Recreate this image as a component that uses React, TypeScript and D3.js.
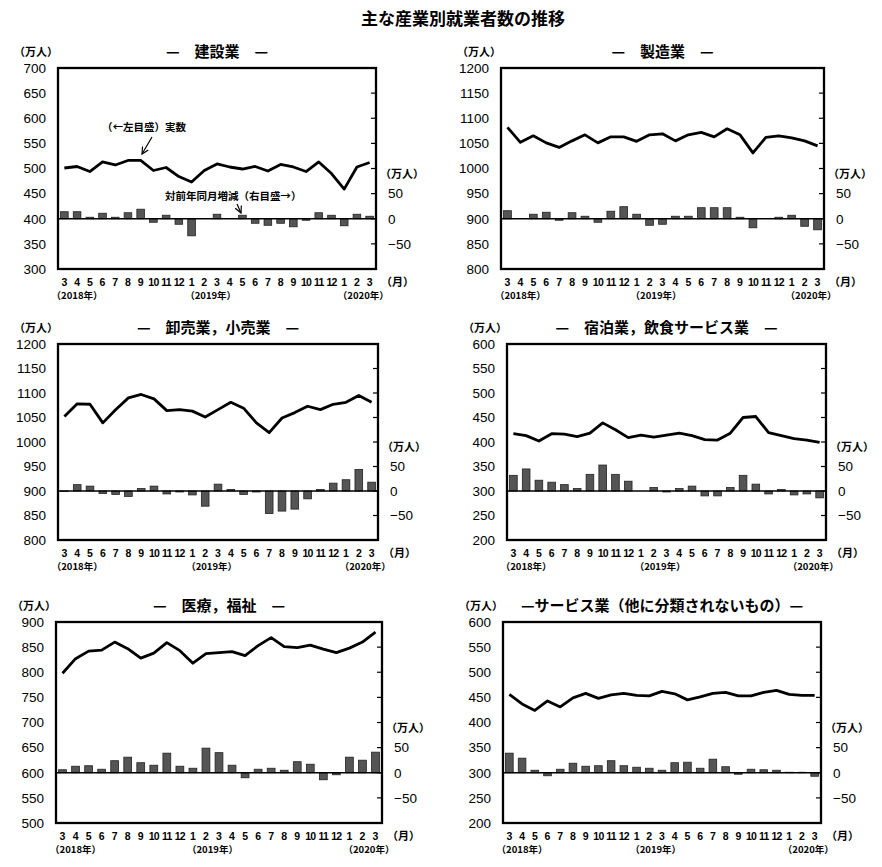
import React from 'react';
import * as d3 from 'd3';

// months shown on the x axis: 2018/3 .. 2020/3
const months = ['3', '4', '5', '6', '7', '8', '9', '10', '11', '12', '1', '2', '3', '4', '5', '6', '7', '8', '9', '10', '11', '12', '1', '2', '3'];
const yearLabels = ['（2018年）', '（2019年）', '（2020年）'];
const yearAt = [1, 11.5, 23.5];

const titles = ['—　建設業　—', '—　製造業　—', '—　卸売業，小売業　—', '—　宿泊業，飲食サービス業　—', '—　医療，福祉　—', '—サービス業（他に分類されないもの）—'];
const leftMins = [300, 800, 800, 200, 500, 200];

// 実数 (left axis, 万人)
const construction = [501, 504, 494, 513, 507, 516, 516, 496, 502, 484, 473, 496, 509, 503, 499, 504, 495, 508, 503, 494, 513, 490, 459, 503, 512];
const manufacturing = [1082, 1052, 1065, 1051, 1042, 1055, 1067, 1051, 1063, 1063, 1054, 1067, 1069, 1055, 1067, 1072, 1063, 1079, 1067, 1031, 1062, 1065, 1061, 1055, 1045];
const wholesale = [1052, 1078, 1077, 1039, 1066, 1090, 1097, 1088, 1064, 1066, 1063, 1051, 1066, 1081, 1069, 1039, 1019, 1049, 1060, 1073, 1066, 1077, 1081, 1095, 1081];
const hospitality = [417, 413, 402, 417, 416, 411, 418, 439, 425, 409, 414, 410, 414, 418, 413, 405, 404, 418, 450, 452, 419, 413, 407, 404, 399];
const medical = [798, 827, 842, 844, 860, 847, 828, 838, 859, 843, 818, 837, 839, 841, 833, 853, 869, 851, 849, 854, 846, 839, 848, 860, 880];
const services = [456, 437, 424, 443, 431, 449, 458, 448, 455, 458, 454, 453, 462, 457, 445, 451, 458, 460, 453, 453, 460, 464, 456, 454, 454];

// 対前年同月増減 (right axis, 万人)
const constructionChange = [14, 14, 3, 11, 3, 12, 19, -7, 7, -11, -34, 0, 9, 0, 7, -9, -13, -9, -16, -3, 12, 7, -14, 9, 5];
const manufacturingChange = [16, 0, 9, 13, -3, 12, 5, -7, 15, 24, 9, -13, -11, 5, 5, 22, 22, 22, 3, -18, 0, 3, 7, -15, -22];
const wholesaleChange = [-1, 13, 10, -5, -7, -11, 5, 10, -6, -2, -8, -31, 14, 3, -7, -2, -46, -41, -37, -16, 3, 16, 23, 44, 18];
const hospitalityChange = [32, 45, 22, 18, 13, 5, 34, 53, 34, 20, 0, 7, -2, 5, 10, -10, -10, 7, 32, 14, -6, 3, -8, -6, -14];
const medicalChange = [6, 13, 14, 7, 24, 31, 20, 15, 39, 13, 9, 49, 40, 15, -10, 7, 9, 5, 22, 17, -14, -4, 31, 25, 41];
const servicesChange = [39, 29, 5, -6, 7, 19, 13, 14, 24, 14, 11, 9, 5, 20, 21, 9, 27, 12, -3, 7, 6, 5, 1, 1, -7];

const rightTicks = [50, 0, -50];

const values = [construction, manufacturing, wholesale, hospitality, medical, services];
const changes = [constructionChange, manufacturingChange, wholesaleChange, hospitalityChange, medicalChange, servicesChange];

// plot frames [left, right, top, bottom]
const frames = [
  [58, 376, 68, 269],
  [501, 824, 68, 269],
  [58, 378, 344, 540],
  [507, 826, 344, 540],
  [56, 382, 622, 823],
  [503, 821, 622, 823],
];

const NUM = '"Liberation Sans", Arial, sans-serif';
const JP = '"Noto Sans CJK JP", "Noto Sans", sans-serif';

function Panel({ idx }: { idx: number }) {
  const [left, right, top, bottom] = frames[idx];
  const min = leftMins[idx];
  const max = min + 400;
  const zero = min + 100;
  const y = d3.scaleLinear().domain([min, max]).range([bottom, top]);
  const yr = d3.scaleLinear().domain([min - zero, max - zero]).range([bottom, top]);
  const x = d3.scaleBand<number>().domain(d3.range(months.length)).range([left, right]).paddingInner(0.4).paddingOuter(0.2);
  const cx = (i: number) => (x(i) as number) + x.bandwidth() / 2;
  const step = x.step();
  const leftTicks = d3.range(min, max + 1, 50);

  const line = d3.line<number>().x((_, i) => cx(i)).y(d => y(d));

  return (
    <g>
      <text x={(left + right) / 2} y={top - 11} textAnchor="middle" fontFamily={JP} fontWeight={700} fontSize={15}>{titles[idx]}</text>
      <text x={left - 22} y={top - 12} textAnchor="middle" fontFamily={JP} fontSize={11} fontWeight={700}>（万人）</text>

      {leftTicks.map(t => (
        <text key={t} x={left - 12} y={y(t)} dy="0.36em" textAnchor="end" fontFamily={NUM} fontSize={13.5}>{t}</text>
      ))}
      {leftTicks.slice(1, -1).map(t => (
        <line key={t} x1={right - 5} x2={right} y1={y(t)} y2={y(t)} stroke="#000" strokeWidth={1.2} />
      ))}

      {rightTicks.map(t => (
        <text key={t} x={right + 12} y={yr(t)} dy="0.36em" textAnchor="start" fontFamily={NUM} fontSize={13.5}>{t < 0 ? '−' + Math.abs(t) : t}</text>
      ))}
      <text x={right + 26} y={yr(100) + 9} textAnchor="middle" fontFamily={JP} fontSize={11} fontWeight={700}>（万人）</text>

      {changes[idx].map((v, i) => (
        <rect key={i} x={x(i)} width={x.bandwidth()} y={Math.min(yr(v), yr(0))} height={Math.abs(yr(v) - yr(0))} fill="#555" stroke="#222" strokeWidth={0.8} />
      ))}
      <line x1={left} x2={right} y1={yr(0)} y2={yr(0)} stroke="#000" strokeWidth={1.6} />

      <path d={line(values[idx]) as string} fill="none" stroke="#000" strokeWidth={2.8} strokeLinejoin="round" />

      <rect x={left} y={top} width={right - left} height={bottom - top} fill="none" stroke="#000" strokeWidth={2.3} />

      {months.map((m, i) => (
        <text key={i} x={cx(i)} y={bottom + 17} textAnchor="middle" fontFamily={NUM} fontSize={10.5} fontWeight={700} letterSpacing={m.length > 1 ? -0.8 : 0}>{m}</text>
      ))}
      {yearLabels.map((l, i) => (
        <text key={l} x={left + step * (yearAt[i] + 0.5)} y={bottom + 30} textAnchor="middle" fontFamily={JP} fontSize={9.5} fontWeight={700}>{l}</text>
      ))}
      <text x={right + 5} y={bottom + 17} fontFamily={JP} fontSize={11} fontWeight={700}>（月）</text>
    </g>
  );
}

export default function App() {
  return (
    <svg width={882} height={867} style={{ position: 'absolute', left: 0, top: 0, background: '#fff' }}>
      <defs>
        <marker id="arr" viewBox="0 0 10 10" refX="9" refY="5" markerWidth="7" markerHeight="7" orient="auto">
          <path d="M1,1 L9,5 L1,9" fill="none" stroke="#000" strokeWidth={1.4} />
        </marker>
      </defs>
      <text x={463} y={25} textAnchor="middle" fontFamily={JP} fontWeight={700} fontSize={17}>主な産業別就業者数の推移</text>
      {frames.map((_, i) => <Panel key={i} idx={i} />)}

      <text x={102} y={131} fontFamily={JP} fontSize={10.5} fontWeight={700}>（←左目盛）実数</text>
      <line x1={152} y1={137} x2={142} y2={154} stroke="#000" strokeWidth={1.2} markerEnd="url(#arr)" />
      <text x={165} y={200} fontFamily={JP} fontSize={10.5} fontWeight={700}>対前年同月増減（右目盛→）</text>
      <line x1={237} y1={204} x2={241} y2={213} stroke="#000" strokeWidth={1.2} markerEnd="url(#arr)" />
    </svg>
  );
}
